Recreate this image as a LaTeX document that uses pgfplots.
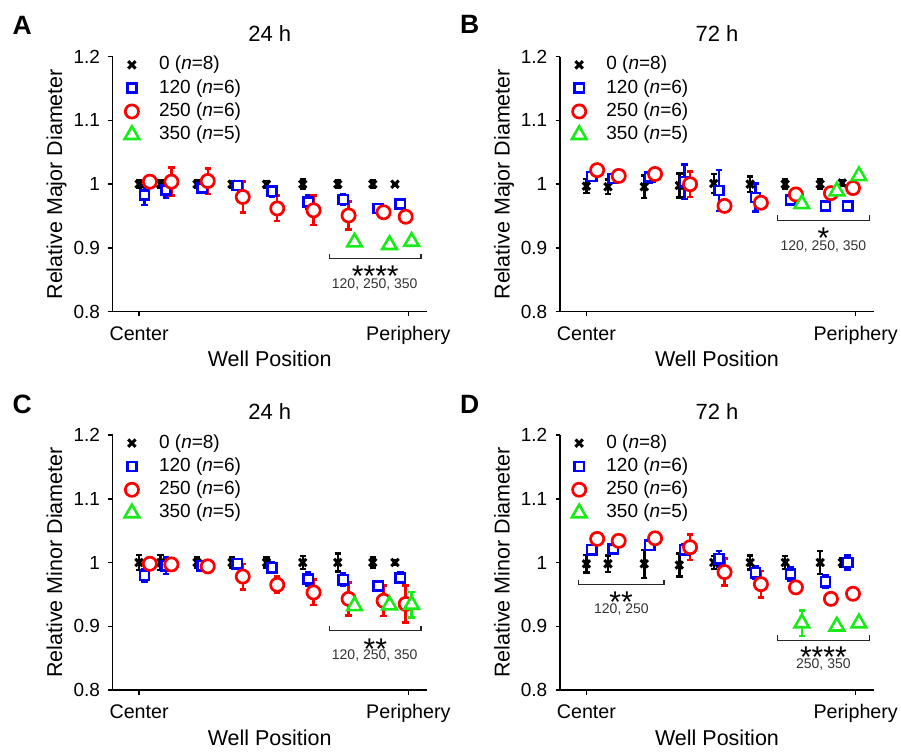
\documentclass[border=0pt]{standalone}
\usepackage{pgfplots}
\usepackage{pgfplotstable}
\pgfplotsset{compat=1.18}
\usepackage{fontspec}
\setmainfont{Liberation Sans}

\definecolor{cblue}{RGB}{0,0,255}
\definecolor{cred}{RGB}{255,0,0}
\definecolor{cgreen}{RGB}{25,235,25}

\newcommand{\fs}[1]{\fontsize{#1}{#1}\selectfont}

% x = well group position (Center = 0, Periphery = 10); y/e = mean and error per dose
\pgfplotstableread{
x    y0    e0    y1    e1    y2    e2    y3    e3
0    1.0   0.006 0.983 0.016 1.004 0.004 nan   nan
0.8  1.0   0.006 0.991 0.012 1.004 0.022 nan   nan
2.15 1.0   0.006 0.994 0.006 1.005 0.020 nan   nan
3.45 1.0   0.005 0.998 0.005 0.980 0.024 nan   nan
4.73 1.0   0.005 0.989 0.008 0.962 0.020 nan   nan
6.08 1.0   0.007 0.972 0.010 0.959 0.023 nan   nan
7.38 1.0   0.006 0.976 0.008 0.951 0.022 0.909 0.004
8.68 1.0   0.006 0.962 0.004 0.956 0.004 0.905 0.006
9.5  1.0   0.002 0.969 0.004 0.949 0.004 0.910 0.003
}\tabA

\pgfplotstableread{
x    y0    e0    y1    e1    y2    e2    y3    e3
0    0.997 0.011 1.012 0.005 1.022 0.004 nan   nan
0.8  0.996 0.011 1.009 0.005 1.013 0.004 nan   nan
2.15 0.996 0.018 1.011 0.008 1.016 0.004 nan   nan
3.45 0.998 0.019 1.004 0.027 1.000 0.020 nan   nan
4.73 1.001 0.015 0.990 0.032 0.966 0.006 nan   nan
6.08 1.0   0.012 0.979 0.022 0.971 0.006 nan   nan
7.38 1.0   0.007 0.975 0.005 0.984 0.005 0.969 0.004
8.68 1.0   0.007 0.966 0.004 0.986 0.005 0.989 0.004
9.5  1.002 0.004 0.966 0.004 0.994 0.005 1.013 0.004
}\tabB

\pgfplotstableread{
x    y0    e0    y1    e1    y2    e2    y3    e3
0    1.0   0.012 0.980 0.010 0.998 0.004 nan   nan
0.8  1.0   0.012 0.995 0.013 0.997 0.004 nan   nan
2.15 1.0   0.008 0.995 0.005 0.994 0.004 nan   nan
3.45 1.0   0.008 0.998 0.004 0.978 0.020 nan   nan
4.73 1.0   0.008 0.992 0.008 0.965 0.013 nan   nan
6.08 1.0   0.010 0.974 0.010 0.953 0.020 nan   nan
7.38 1.0   0.014 0.973 0.010 0.943 0.026 0.932 0.005
8.68 1.0   0.008 0.963 0.005 0.940 0.024 0.933 0.005
9.5  1.0   0.004 0.976 0.008 0.935 0.029 0.934 0.020
}\tabC

\pgfplotstableread{
x    y0    e0    y1    e1    y2    e2    y3    e3
0    0.998 0.014 1.020 0.005 1.037 0.004 nan   nan
0.8  0.998 0.013 1.021 0.005 1.034 0.004 nan   nan
2.15 0.998 0.022 1.027 0.006 1.038 0.004 nan   nan
3.45 0.996 0.018 1.020 0.008 1.024 0.020 nan   nan
4.73 1.0   0.010 1.006 0.012 0.985 0.021 nan   nan
6.08 1.0   0.011 0.984 0.010 0.966 0.021 nan   nan
7.38 1.0   0.010 0.982 0.010 0.961 0.004 0.905 0.020
8.68 1.0   0.018 0.970 0.010 0.943 0.004 0.900 0.004
9.5  1.0   0.006 1.000 0.011 0.951 0.008 0.905 0.004
}\tabD

\tikzset{
  bracket/.style={line width=1.3bp, black!85},
  stars/.style={anchor=base, font=\fs{30bp}, inner sep=0pt},
  grp/.style={anchor=base, font=\fs{14bp}, text=black!80, inner sep=0pt},
  letter/.style={anchor=base west, font=\fs{26.5bp}\bfseries, inner sep=0pt},
}

\pgfplotsset{
  panel/.style={
    scale only axis, width=314bp, height=255bp,
    xmin=-0.98, xmax=10.68, ymin=0.8, ymax=1.2,
    axis x line*=bottom, axis y line*=left,
    axis line style={line width=1.5bp, black},
    clip=false,
    xtick={0,10}, xticklabels={Center,Periphery},
    ytick={0.8,0.9,1,1.1,1.2}, yticklabels={0.8,0.9,1,1.1,1.2},
    tick align=outside, major tick length=4.5bp,
    tick style={line width=1.5bp, black},
    /pgf/number format/assume math mode=true,
    xticklabel style={font=\fs{19.7bp}, inner sep=0pt, anchor=base, yshift=-24bp},
    yticklabel style={font=\fs{19bp}, inner sep=0pt, anchor=east, xshift=-8bp},
    xlabel={Well Position},
    xlabel style={font=\fs{21.5bp}, at={(axis description cs:0.5,0)}, anchor=base, yshift=-55bp, inner sep=0pt},
    ylabel style={font=\fs{21.5bp}, at={([xshift=-50.5bp]axis description cs:0,0.5)}, anchor=base, inner sep=0pt},
    title style={font=\fs{22bp}, at={(axis description cs:0.5,1)}, anchor=base, yshift=9.4bp, inner sep=0pt},
    legend style={draw=none, fill=none, at={(axis description cs:0,1)}, anchor=north west,
      xshift=9bp, yshift=1bp, font=\fs{19bp}, inner sep=0pt, outer sep=0pt, row sep=5bp, column sep=17bp,
      nodes={inner sep=0pt, text height=14bp, text depth=4.3bp}},
    legend cell align=left,
  },
  eb/.style={forget plot, only marks, mark=none, #1,
    error bars/.cd, y dir=both, y explicit,
    error bar style={line width=2.5bp, solid, #1},
    error mark options={rotate=90, mark size=3.2bp, line width=2.5bp, solid, #1}},
  limg/.style={legend image code/.code={\path (-10bp,0bp) (10bp,0bp); \draw[##1] plot coordinates {(0bp,0bp)};}},
  m0/.style={only marks, black, mark=x, mark size=5.2bp, mark options={line width=3bp, solid}, limg},
  m1/.style={only marks, cblue, mark=square*, mark size=4.6bp, mark options={line width=2.6bp, draw=cblue, fill=white, solid}, limg},
  m2/.style={only marks, cred, mark=*, mark size=6.6bp, mark options={line width=2.7bp, draw=cred, fill=white, solid}, limg},
  m3/.style={only marks, cgreen, mark=triangle*, mark size=8.4bp, mark options={line width=2.6bp, draw=cgreen, fill=white, solid}, limg},
}

% one dose series: error bars first, then the open marks on top
\newcommand{\ser}[4]{%
  \addplot[eb=#3] table[x expr=\thisrow{x}+#4, y=y#2, y error=e#2] {#1};
  \addplot[m#2] table[x expr=\thisrow{x}+#4, y=y#2] {#1};
}
\newcommand{\allser}[1]{%
  \ser{#1}{0}{black}{0}
  \ser{#1}{1}{cblue}{0.2}
  \ser{#1}{2}{cred}{0.4}
  \ser{#1}{3}{cgreen}{0.62}
  \legend{0 (\textit{n}=8), 120 (\textit{n}=6), 250 (\textit{n}=6), 350 (\textit{n}=5)}
}

\begin{document}
\begin{tikzpicture}
\useasboundingbox (0,0) rectangle (901bp,-752bp);

% A
\begin{axis}[panel, at={(112.7bp,-311.7bp)}, anchor=south west, title={24 h}, ylabel={Relative Major Diameter}]
\allser{\tabA}
\draw[bracket] (axis cs:7.07,0.891) -- (axis cs:7.07,0.883) -- (axis cs:10.47,0.883) -- (axis cs:10.47,0.891);
\node[stars] at (axis cs:8.77,0.840) {****};
\node[grp] at (axis cs:8.75,0.836) {120, 250, 350};
\end{axis}

% B
\begin{axis}[panel, at={(560bp,-311.7bp)}, anchor=south west, title={72 h}, ylabel={Relative Major Diameter}]
\allser{\tabB}
\draw[bracket] (axis cs:7.1,0.9515) -- (axis cs:7.1,0.9435) -- (axis cs:10.5,0.9435) -- (axis cs:10.5,0.9515);
\node[stars] at (axis cs:8.8,0.8996) {*};
\node[grp] at (axis cs:8.8,0.896) {120, 250, 350};
\end{axis}

% C
\begin{axis}[panel, at={(112.7bp,-690bp)}, anchor=south west, title={24 h}, ylabel={Relative Minor Diameter}]
\allser{\tabC}
\draw[bracket] (axis cs:7.07,0.901) -- (axis cs:7.07,0.893) -- (axis cs:10.47,0.893) -- (axis cs:10.47,0.901);
\node[stars] at (axis cs:8.77,0.8486) {**};
\node[grp] at (axis cs:8.75,0.848) {120, 250, 350};
\end{axis}

% D
\begin{axis}[panel, at={(560bp,-690bp)}, anchor=south west, title={72 h}, ylabel={Relative Minor Diameter}]
\allser{\tabD}
\draw[bracket] (axis cs:-0.29,0.973) -- (axis cs:-0.29,0.965) -- (axis cs:2.88,0.965) -- (axis cs:2.88,0.973);
\node[stars] at (axis cs:1.29,0.922) {**};
\node[grp] at (axis cs:1.3,0.9207) {120, 250};
\draw[bracket] (axis cs:7.1,0.886) -- (axis cs:7.1,0.878) -- (axis cs:10.5,0.878) -- (axis cs:10.5,0.886);
\node[stars] at (axis cs:8.8,0.835) {****};
\node[grp] at (axis cs:8.8,0.834) {250, 350};
\end{axis}

\node[letter] at (12.5bp,-34bp) {A};
\node[letter] at (460bp,-33.5bp) {B};
\node[letter] at (12.5bp,-413bp) {C};
\node[letter] at (460bp,-413bp) {D};
\end{tikzpicture}
\end{document}
